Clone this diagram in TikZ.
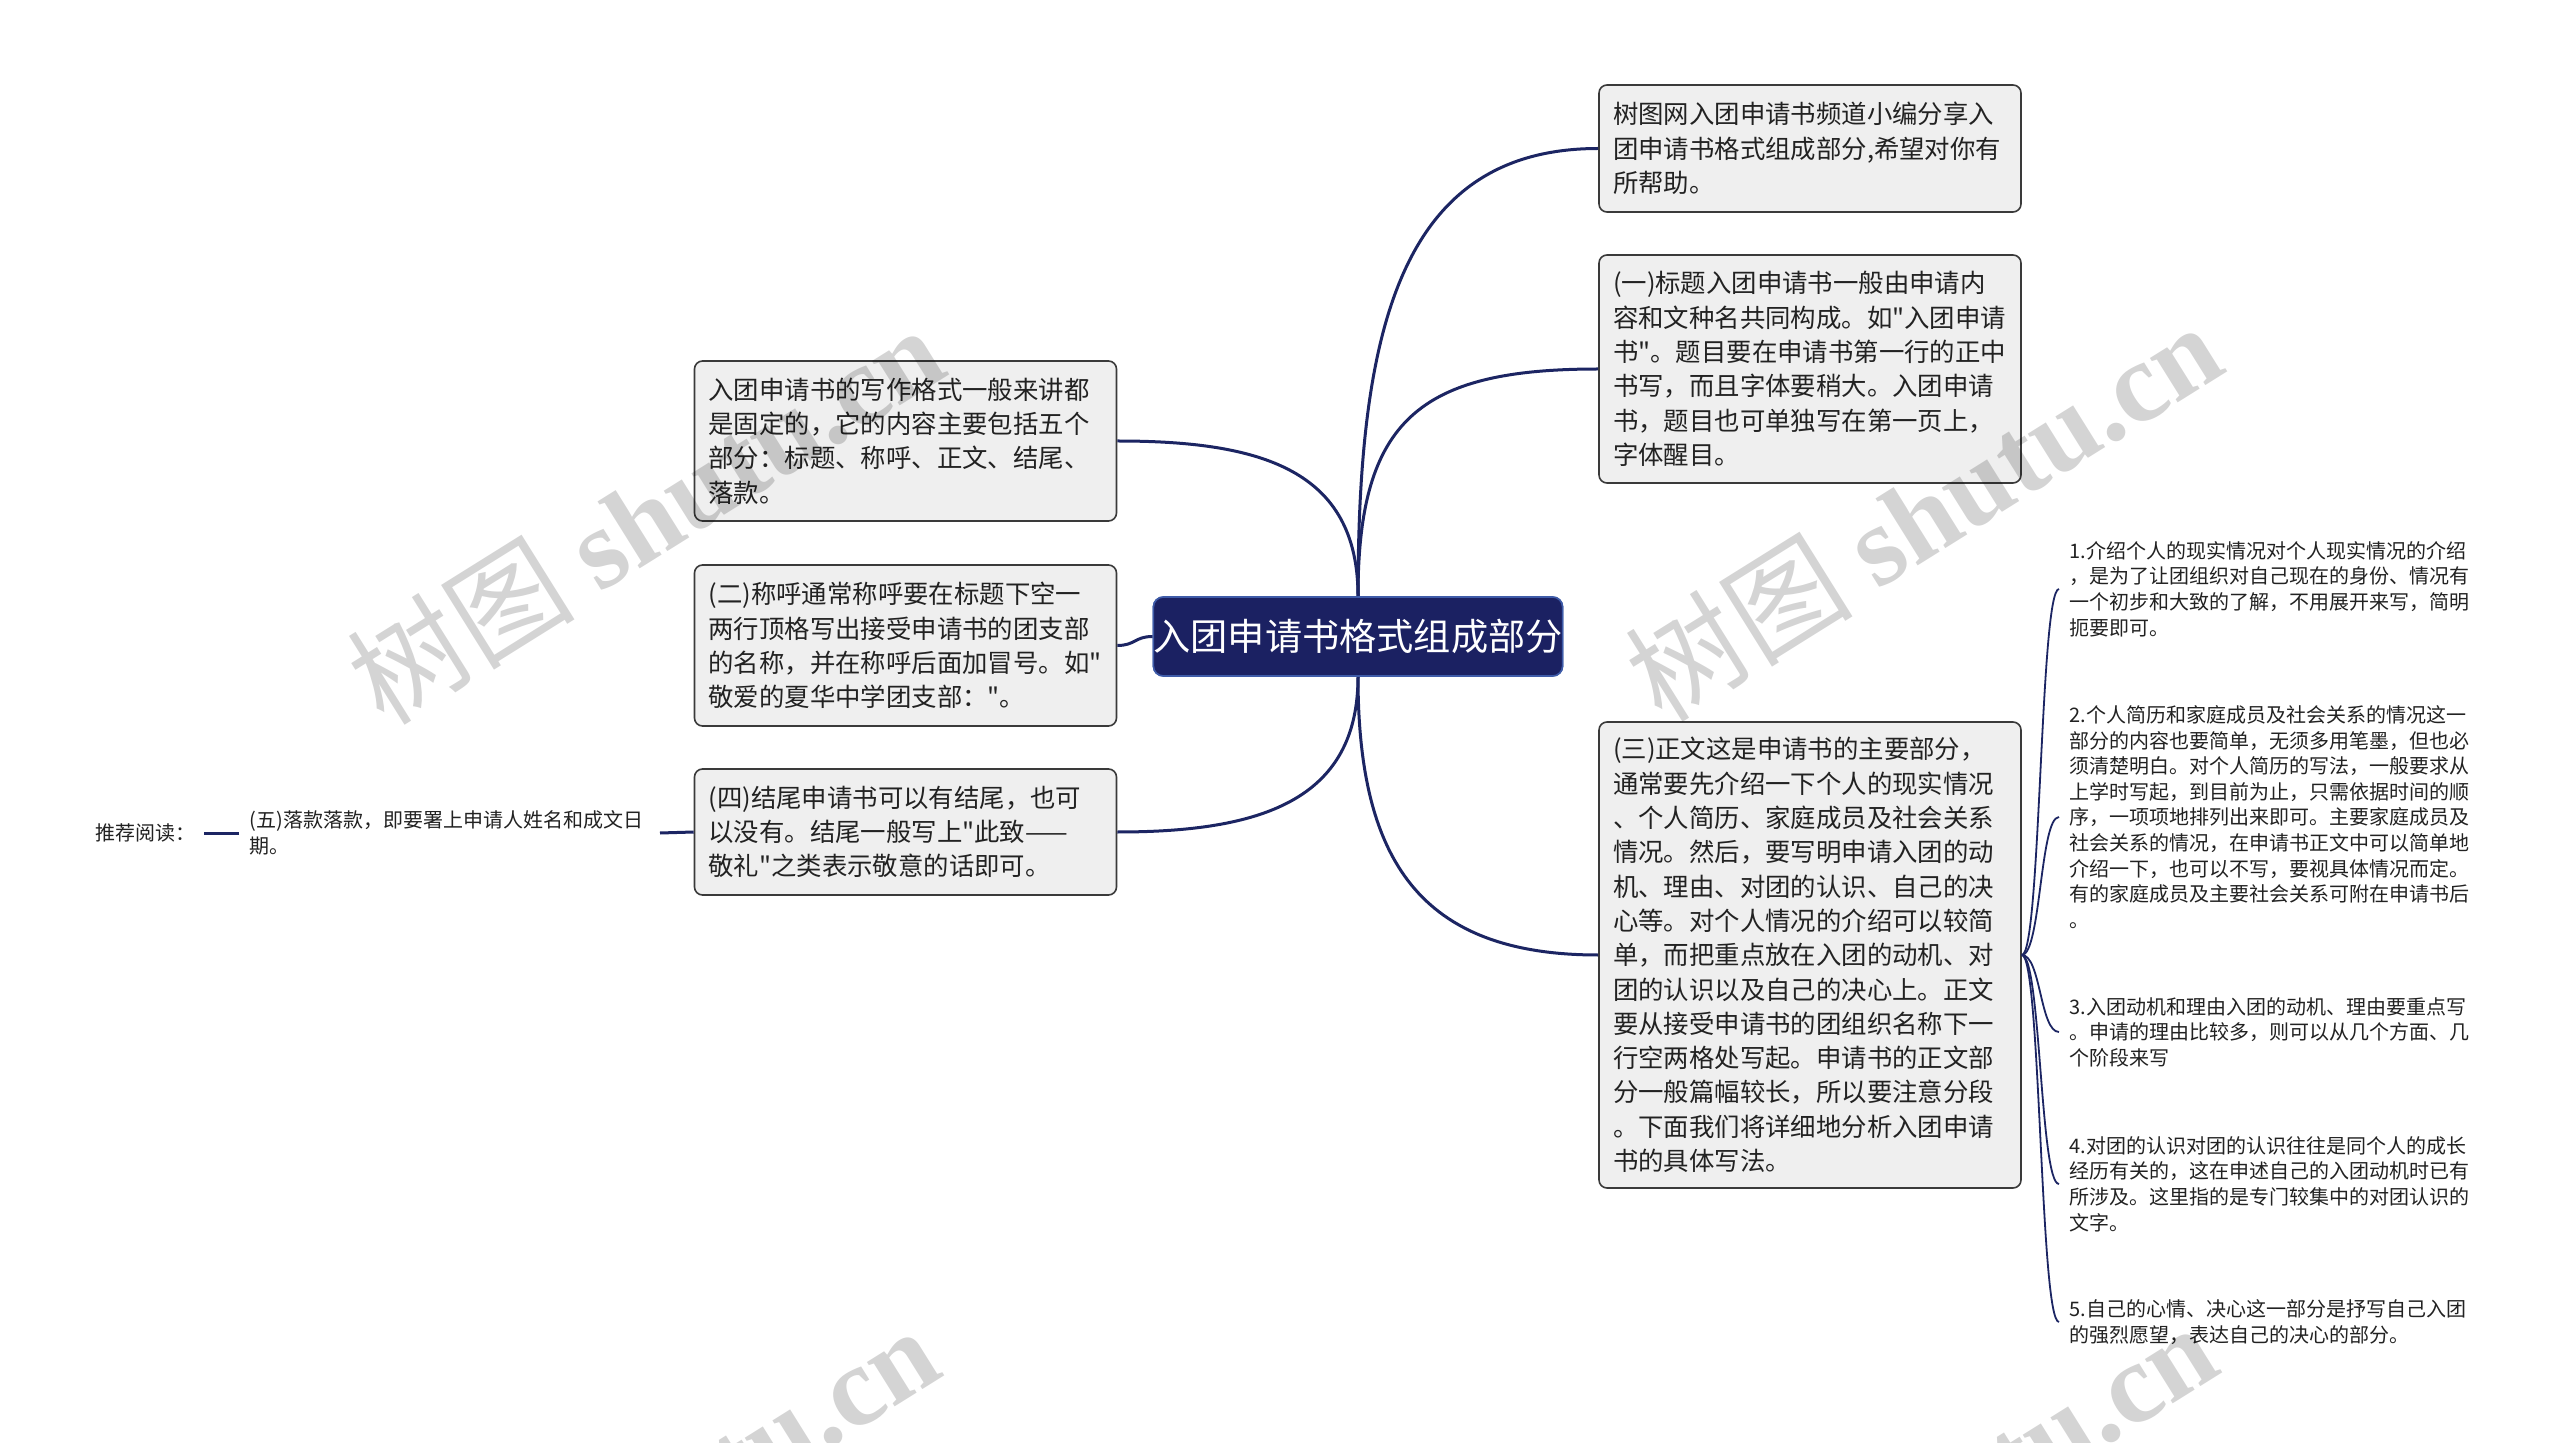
\documentclass[tikz,border=0pt]{standalone}
\usepackage{fontspec}
\newfontfamily\cjk{Noto Sans CJK SC}
\newfontfamily\wmlat{Liberation Serif}
\definecolor{navy}{HTML}{1B2162}
\definecolor{navyedge}{HTML}{3E5BA8}
\definecolor{linecol}{HTML}{1C2563}
\definecolor{boxfill}{HTML}{EFEFEF}
\definecolor{boxedge}{HTML}{3A3A3A}
\definecolor{txt}{HTML}{222222}
\tikzset{
  box/.style={draw=boxedge, fill=boxfill, rounded corners=4pt, line width=0.8pt,
    font=\cjk\fontsize{12.7pt}{17.15pt}\selectfont, text=txt, align=left,
    text width=197pt, inner xsep=7pt, inner ysep=5pt},
  rootbox/.style={draw=navyedge, fill=navy, rounded corners=5pt, line width=0.8pt,
    font=\cjk\fontsize{18.6pt}{22pt}\selectfont, text=white,
    minimum width=204pt, minimum height=39.5pt, inner sep=0pt},
  small/.style={font=\cjk\fontsize{10pt}{12.8pt}\selectfont, text=txt, align=left,
    text width=200pt, inner xsep=5pt, inner ysep=2pt},
  conn/.style={draw=linecol, line width=1.5pt},
  thinconn/.style={draw=linecol, line width=0.9pt},
  wm/.style={font=\cjk\fontsize{57pt}{64pt}\selectfont, text=black, text opacity=0.17, inner sep=0pt}
}
\begin{document}
\begin{tikzpicture}[x=0.5pt,y=-0.5pt]
\useasboundingbox (0,0) rectangle (2560,1443);
\fill[white] (0,0) rectangle (2560,1443);

% root
\node[rootbox] (c) at (1358,636.5) {入团申请书格式组成部分};

% right boxes
\node[box, minimum height=63.5pt] (r1) at (1810,148.5) {树图网入团申请书频道小编分享入\\团申请书格式组成部分,希望对你有\\所帮助。};
\node[box, minimum height=114pt] (r2) at (1810,369) {(一)标题入团申请书一般由申请内\\容和文种名共同构成。如"入团申请\\书"。题目要在申请书第一行的正中\\书写，而且字体要稍大。入团申请\\书，题目也可单独写在第一页上，\\字体醒目。};
\node[box, minimum height=233pt] (r3) at (1810,955) {(三)正文这是申请书的主要部分，\\通常要先介绍一下个人的现实情况\\、个人简历、家庭成员及社会关系\\情况。然后，要写明申请入团的动\\机、理由、对团的认识、自己的决\\心等。对个人情况的介绍可以较简\\单，而把重点放在入团的动机、对\\团的认识以及自己的决心上。正文\\要从接受申请书的团组织名称下一\\行空两格处写起。申请书的正文部\\分一般篇幅较长，所以要注意分段\\。下面我们将详细地分析入团申请\\书的具体写法。};

% left boxes
\node[box, minimum height=80pt] (l1) at (905.5,441) {入团申请书的写作格式一般来讲都\\是固定的，它的内容主要包括五个\\部分：标题、称呼、正文、结尾、\\落款。};
\node[box, minimum height=80.5pt] (l2) at (905.5,645.5) {(二)称呼通常称呼要在标题下空一\\两行顶格写出接受申请书的团支部\\的名称，并在称呼后面加冒号。如"\\敬爱的夏华中学团支部："。};
\node[box, minimum height=63pt] (l3) at (905.5,832) {(四)结尾申请书可以有结尾，也可\\以没有。结尾一般写上"此致——\\敬礼"之类表示敬意的话即可。};

% far left
\node[small, anchor=east] (l5) at (660,833) {(五)落款落款，即要署上申请人姓名和成文日\\期。};
\node[font=\cjk\fontsize{10pt}{12.8pt}\selectfont, text=txt, inner xsep=4pt, anchor=east] (rec) at (204,833) {推荐阅读：};

% right small texts
\node[small, anchor=west] (s1) at (2059,589) {1.介绍个人的现实情况对个人现实情况的介绍\\，是为了让团组织对自己现在的身份、情况有\\一个初步和大致的了解，不用展开来写，简明\\扼要即可。};
\node[small, anchor=west] (s2) at (2059,817) {2.个人简历和家庭成员及社会关系的情况这一\\部分的内容也要简单，无须多用笔墨，但也必\\须清楚明白。对个人简历的写法，一般要求从\\上学时写起，到目前为止，只需依据时间的顺\\序，一项项地排列出来即可。主要家庭成员及\\社会关系的情况，在申请书正文中可以简单地\\介绍一下，也可以不写，要视具体情况而定。\\有的家庭成员及主要社会关系可附在申请书后\\。};
\node[small, anchor=west] (s3) at (2059,1032) {3.入团动机和理由入团的动机、理由要重点写\\。申请的理由比较多，则可以从几个方面、几\\个阶段来写};
\node[small, anchor=west] (s4) at (2059,1184) {4.对团的认识对团的认识往往是同个人的成长\\经历有关的，这在申述自己的入团动机时已有\\所涉及。这里指的是专门较集中的对团认识的\\文字。};
\node[small, anchor=west] (s5) at (2059,1322) {5.自己的心情、决心这一部分是抒写自己入团\\的强烈愿望，表达自己的决心的部分。};

% connectors
\draw[conn] (c.north) .. controls +(0,-267) and +(-198,0) .. (r1.west);
\draw[conn] (c.north) .. controls +(0,-177) and +(-178,0) .. (r2.west);
\draw[conn] (c.south) .. controls +(0,184) and +(-178,0) .. (r3.west);
\draw[conn] (c.north) .. controls +(0,-127) and +(143,0) .. (l1.east);
\draw[conn] (c.west) .. controls +(-18,0) and +(18,0) .. (l2.east);
\draw[conn] (c.south) .. controls +(0,124) and +(143,0) .. (l3.east);
\draw[conn] (l3.west) -- (l5.east);
\draw[conn] (l5.west) -- (rec.east);
\foreach \s in {s1,s2,s3,s4,s5}{
  \draw[thinconn] (r3.east) .. controls +(19,0) and +(-19,0) .. (\s.west);
}
% redraw root on top of its branches
\node[rootbox] (c2) at (1358,636.5) {入团申请书格式组成部分};

% watermark
\begin{scope}
\clip (0,0) rectangle (2560,1443);
\node[wm, rotate=32] (w1) at (645,514) {树图 {\wmlat\bfseries shutu.cn}};
\node[wm, rotate=32] (w2) at (1923,511) {树图 {\wmlat\bfseries shutu.cn}};
\node[wm, rotate=32] (w3) at (640,1515) {树图 {\wmlat\bfseries shutu.cn}};
\node[wm, rotate=32] (w4) at (1918,1512) {树图 {\wmlat\bfseries shutu.cn}};
\end{scope}
\end{tikzpicture}
\end{document}
